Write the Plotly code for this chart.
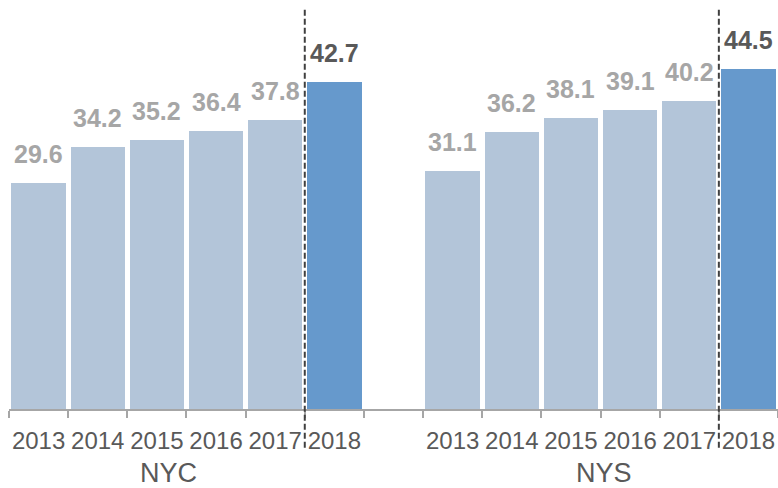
import plotly.graph_objects as go

years = ["2013", "2014", "2015", "2016", "2017", "2018"]
groups = ["NYC", "NYS"]
nyc_values = [29.6, 34.2, 35.2, 36.4, 37.8, 42.7]
nys_values = [31.1, 36.2, 38.1, 39.1, 40.2, 44.5]

light = "#b3c5d9"
dark = "#6699cc"
label_light = "#a6a6a6"
label_dark = "#595959"
font = "Liberation Sans, Arial"

# each group gets one slot per year, with one empty slot between groups
slot = len(years) + 1
# the group names are not quite centred under their bars in the original
group_label_offset = [-0.3, 0.06]

fig = go.Figure()
for g, (name, vals) in enumerate(zip(groups, [nyc_values, nys_values])):
    xs = [g * slot + i for i in range(len(years))]
    colors = [dark if y == years[-1] else light for y in years]
    fig.add_trace(go.Bar(
        x=xs, y=vals, name=name, width=0.92,
        marker=dict(color=colors, line=dict(width=0)),
        hoverinfo="y",
    ))
    # value labels sit a bit above each bar
    for x, v, y in zip(xs, vals, years):
        fig.add_annotation(
            x=x, y=v, xref="x", yref="y", text=f"<b>{v:.1f}</b>",
            showarrow=False, yanchor="bottom", yshift=13,
            font=dict(family=font, size=25,
                      color=label_dark if y == years[-1] else label_light),
        )
    # dashed separator before the latest year
    fig.add_shape(type="line", xref="x", yref="paper",
                  x0=xs[-1] - 0.5, x1=xs[-1] - 0.5, y0=0.976, y1=-0.1,
                  line=dict(color="#404040", width=2, dash="6px,3px"))
    fig.add_annotation(x=(xs[0] + xs[-1]) / 2 + group_label_offset[g], y=-0.1565,
                       xref="x", yref="paper",
                       text=name, showarrow=False, yanchor="middle",
                       font=dict(family=font, size=27, color=label_dark))

centers = [g * slot + i for g in range(len(groups)) for i in range(len(years))]
boundaries = [k - 0.5 for k in range(len(groups) * slot)]

fig.update_layout(
    width=778, height=488,
    margin=dict(l=9, r=0, t=0, b=79),
    plot_bgcolor="white", paper_bgcolor="white",
    showlegend=False, bargap=0,
    xaxis=dict(
        range=[-0.5, len(groups) * slot - 1.5],
        tickvals=centers, ticktext=years * len(groups),
        ticks="", ticklabelstandoff=9,
        tickfont=dict(family=font, size=24, color=label_dark),
        showline=True, linecolor="#a6a6a6", linewidth=2,
        showgrid=False, zeroline=False,
        minor=dict(tickvals=boundaries, ticks="outside", ticklen=7,
                   tickcolor="#a6a6a6", tickwidth=2, showgrid=False),
    ),
    yaxis=dict(range=[0, 53.46], visible=False, showgrid=False),
)

fig.write_html("out.html", config={"displayModeBar": False},
               post_script="document.body.style.margin='0px';")
